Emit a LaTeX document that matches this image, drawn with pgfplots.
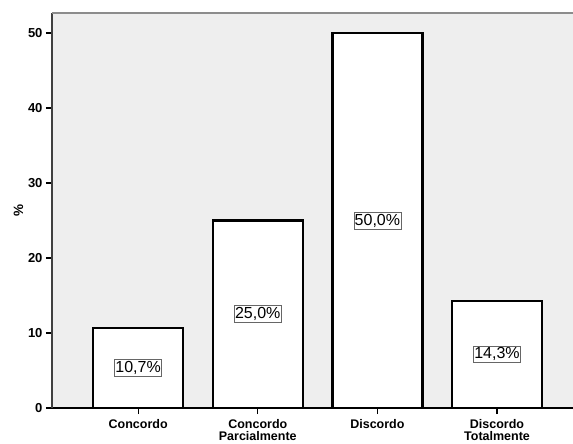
\documentclass[border=0pt]{standalone}
\usepackage{fontspec}
\setmainfont{Liberation Sans}
\usepackage{pgfplots}
\pgfplotsset{compat=1.18}
\definecolor{panel}{HTML}{EEEEEE}
\begin{document}
\begin{tikzpicture}
\begin{axis}[
  name=ax,
  scale only axis,
  width=521pt, height=395pt,
  xmin=-0.72, xmax=3.635,
  ymin=0, ymax=52.67,
  axis lines=left,
  axis line style={-},
  x axis line style={black, line width=1.8pt},
  y axis line style={black!75, line width=1.2pt},
  axis background/.style={fill=panel},
  xtick={0,1,2,3},
  xticklabels={Concordo, Concordo\\Parcialmente, Discordo, Discordo\\Totalmente},
  x tick label style={font=\fontsize{12.5}{12}\selectfont\bfseries, align=center, yshift=-2pt},
  ytick={0,10,20,30,40,50},
  y tick label style={font=\fontsize{13}{13}\selectfont\bfseries},
  /pgf/number format/assume math mode=true,
  tick align=outside,
  major tick length=6pt,
  tick style={black, line width=1.2pt},
  ylabel={\%},
  ylabel style={font=\fontsize{13.5}{13.5}\selectfont\bfseries, yshift=-2pt},
  clip=false,
]
\addplot[ybar, bar width=90pt, fill=white, draw=black, line width=2.2pt]
  coordinates {(0,10.7) (1,25.0) (2,50.0) (3,14.3)};
% percentage labels centred half way up each bar
\addplot[only marks, mark=none, point meta=explicit symbolic,
  nodes near coords, nodes near coords align=center,
  every node near coord/.style={font=\fontsize{16}{16}\selectfont, fill=white,
    draw=black!60, line width=0.7pt, inner xsep=0.8pt, inner ysep=1.8pt, anchor=center}]
  coordinates {(0,5.35)[10,7\%] (1,12.5)[25,0\%] (2,25.0)[50,0\%] (3,7.15)[14,3\%]};
\draw[black!45, line width=1.2pt] (rel axis cs:0,1) -- (rel axis cs:1,1);
\end{axis}
\pgfresetboundingbox
\path[use as bounding box] (ax.south west) ++(-52pt,-35pt) rectangle ([yshift=13pt]ax.north east);
\end{tikzpicture}
\end{document}
